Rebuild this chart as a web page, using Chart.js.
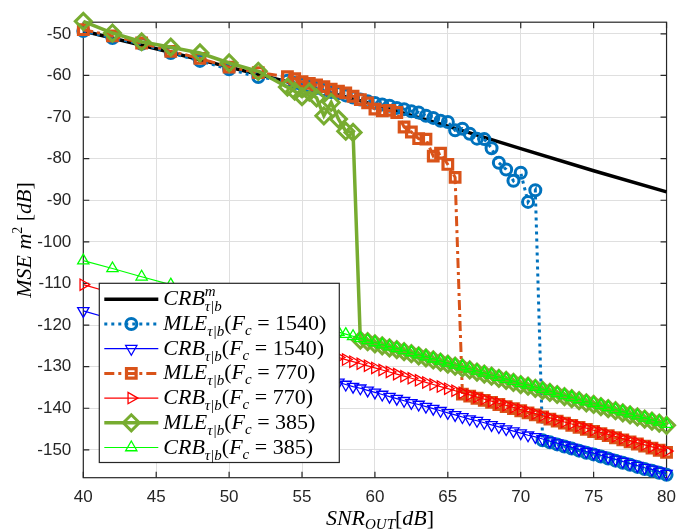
<!DOCTYPE html>
<html>
<head>
<meta charset="utf-8">
<script src="https://cdn.jsdelivr.net/npm/chart.js@4.4.0/dist/chart.umd.min.js"></script>
<style>
  html, body { margin: 0; padding: 0; background: #fff; }
  #wrap { position: relative; width: 685px; height: 532px; }
</style>
</head>
<body>
<div id="wrap"><canvas id="chart"></canvas></div>
<script>
// SNR grid of the simulated curves (2 dB steps up to 54, then 0.5 dB)
const snr = [
  40, 42, 44, 46, 48, 50, 52, 54,
  54.5, 55, 55.5, 56, 56.5, 57, 57.5, 58, 58.5, 59,
  59.5, 60, 60.5, 61, 61.5, 62, 62.5, 63, 63.5, 64,
  64.5, 65, 65.5, 66, 66.5, 67, 67.5, 68, 68.5, 69,
  69.5, 70, 70.5, 71, 71.5, 72, 72.5, 73, 73.5, 74,
  74.5, 75, 75.5, 76, 76.5, 77, 77.5, 78, 78.5, 79,
  79.5, 80
];

// black bound (no markers)
const snrM = [40, 45, 50, 55, 60, 65, 70, 75, 80];
const crbM = [-49.3, -53.6, -58.0, -62.4, -67.0, -72.2, -77.6, -82.9, -88.0];

const mle1540 = [
  -49.3, -51.0, -52.4, -54.6, -56.5, -58.5, -60.4, -61.3,
  -61.8, -62.2, -62.6, -63.0, -63.5, -64.0, -64.3, -64.8, -65.3, -65.8,
  -66.2, -66.6, -67.0, -67.3, -67.8, -68.1, -68.6, -68.9, -69.7, -70.2,
  -70.9, -71.2, -73.2, -72.8, -74.0, -75.2, -75.3, -77.5, -81.0, -82.6,
  -85.3, -83.4, -90.4, -87.6, -147.7, -148.2, -148.7, -149.2, -149.7, -150.2,
  -150.7, -151.1, -151.6, -152.1, -152.6, -153.1, -153.6, -154.1, -154.6, -155.0,
  -155.5, -156.0
];
const crb1540 = [
  -116.6, -118.6, -120.5, -122.5, -124.5, -126.4, -128.4, -130.4,
  -130.9, -131.3, -131.8, -132.3, -132.8, -133.3, -133.8, -134.3, -134.8, -135.2,
  -135.7, -136.2, -136.7, -137.2, -137.7, -138.2, -138.7, -139.1, -139.6, -140.1,
  -140.6, -141.1, -141.6, -142.1, -142.6, -143.0, -143.5, -144.0, -144.5, -145.0,
  -145.5, -146.0, -146.5, -146.9, -147.4, -147.9, -148.4, -148.9, -149.4, -149.9,
  -150.4, -150.8, -151.3, -151.8, -152.3, -152.8, -153.3, -153.8, -154.3, -154.7,
  -155.2, -155.7
];
const mle770 = [
  -49.0, -50.5, -52.2, -54.2, -55.9, -58.0, -59.3, -60.3,
  -60.8, -61.5, -61.9, -62.3, -62.7, -63.3, -63.8, -64.2, -65.0, -65.8,
  -66.6, -68.1, -68.5, -68.4, -68.9, -72.4, -73.6, -75.2, -75.3, -79.4,
  -78.7, -81.4, -84.5, -136.6, -137.1, -137.6, -138.1, -138.6, -139.1, -139.6,
  -140.1, -140.6, -141.1, -141.6, -142.1, -142.6, -143.1, -143.6, -144.1, -144.6,
  -145.1, -145.6, -146.1, -146.6, -147.1, -147.6, -148.1, -148.6, -149.1, -149.6,
  -150.1, -150.6
];
const crb770 = [
  -110.3, -112.3, -114.3, -116.3, -118.3, -120.3, -122.3, -124.3,
  -124.8, -125.3, -125.8, -126.3, -126.8, -127.3, -127.8, -128.3, -128.8, -129.3,
  -129.8, -130.3, -130.8, -131.3, -131.8, -132.3, -132.8, -133.3, -133.8, -134.3,
  -134.8, -135.3, -135.8, -136.3, -136.8, -137.3, -137.8, -138.3, -138.8, -139.3,
  -139.8, -140.3, -140.8, -141.3, -141.8, -142.3, -142.8, -143.3, -143.8, -144.3,
  -144.8, -145.3, -145.8, -146.3, -146.8, -147.3, -147.8, -148.3, -148.8, -149.3,
  -149.8, -150.3
];
const mle385 = [
  -47.0, -49.8, -51.9, -53.2, -54.6, -57.0, -59.0, -62.8,
  -63.8, -65.1, -64.0, -65.4, -69.7, -66.5, -70.5, -73.4, -73.7, -123.6,
  -124.0, -124.5, -125.0, -125.5, -125.9, -126.4, -126.9, -127.4, -127.9, -128.4,
  -128.9, -129.4, -129.9, -130.3, -130.8, -131.3, -131.8, -132.3, -132.8, -133.3,
  -133.8, -134.3, -134.7, -135.2, -135.7, -136.2, -136.7, -137.2, -137.7, -138.2,
  -138.7, -139.1, -139.6, -140.1, -140.6, -141.1, -141.6, -142.1, -142.6, -143.1,
  -143.6, -144.1
];
const crb385 = [
  -104.5, -106.4, -108.4, -110.3, -112.2, -114.2, -116.2, -118.3,
  -118.8, -119.3, -119.8, -120.3, -120.8, -121.2, -121.7, -122.2, -122.7, -123.2,
  -123.7, -124.2, -124.7, -125.2, -125.6, -126.1, -126.6, -127.1, -127.6, -128.1,
  -128.6, -129.1, -129.6, -130.0, -130.5, -131.0, -131.5, -132.0, -132.5, -133.0,
  -133.5, -134.0, -134.4, -134.9, -135.4, -135.9, -136.4, -136.9, -137.4, -137.9,
  -138.4, -138.8, -139.3, -139.8, -140.3, -140.8, -141.3, -141.8, -142.3, -142.8,
  -143.3, -143.8
];

const xTicks = [40, 45, 50, 55, 60, 65, 70, 75, 80];
const yTicks = [-50, -60, -70, -80, -90, -100, -110, -120, -130, -140, -150];

const pts = (xs, ys) => xs.map((x, i) => ({ x: x, y: ys[i] }));

const serif = '"Liberation Serif", "Times New Roman", serif';
const fnt = (s, z) => (s === 'i' ? 'italic ' : '') + z + 'px ' + serif;

// draw a run of text pieces (italic / upright, sub / superscript)
function richWidth(ctx, parts) {
  let w = 0;
  parts.forEach(p => {
    ctx.font = fnt(p.s, p.z || 22);
    if (!p.hold) w += ctx.measureText(p.t).width;
  });
  return w;
}
function drawRich(ctx, x, y, parts) {
  let cx = x;
  parts.forEach(p => {
    ctx.font = fnt(p.s, p.z || 22);
    ctx.fillText(p.t, cx, y + (p.dy || 0));
    if (!p.hold) cx += ctx.measureText(p.t).width;
  });
}

function marker(ctx, style, x, y, r, rot) {
  ctx.beginPath();
  if (style === 'circle') {
    ctx.arc(x, y, r, 0, Math.PI * 2);
  } else if (style === 'rect') {
    const h = r * Math.SQRT1_2;
    ctx.rect(x - h, y - h, 2 * h, 2 * h);
  } else if (style === 'rectRot') {
    ctx.moveTo(x - r, y); ctx.lineTo(x, y - r); ctx.lineTo(x + r, y); ctx.lineTo(x, y + r);
    ctx.closePath();
  } else if (style === 'triangle') {
    let a = (rot || 0) * Math.PI / 180;
    ctx.moveTo(x + Math.sin(a) * r, y - Math.cos(a) * r);
    for (let k = 0; k < 2; k++) {
      a += 2 * Math.PI / 3;
      ctx.lineTo(x + Math.sin(a) * r, y - Math.cos(a) * r);
    }
    ctx.closePath();
  }
  ctx.stroke();
}

const sub = { s: 'i', z: 15, dy: 6 };
const legendRows = [
  { color: '#000000', width: 3.5, dash: [], marker: null,
    text: [{ t: 'CRB', s: 'i' }, { t: 'm', s: 'i', z: 15, dy: -9, hold: true }, Object.assign({ t: 'τ|b' }, sub)] },
  { color: '#0072BD', width: 3, dash: [3, 4], marker: 'circle', r: 5.5, bw: 3, fc: '1540' },
  { color: '#0000FF', width: 1.2, dash: [], marker: 'triangle', rot: 180, r: 6.5, bw: 1.3, fc: '1540', crb: true },
  { color: '#D95319', width: 3, dash: [10, 4, 3, 4], marker: 'rect', r: 6.8, bw: 3.2, fc: '770' },
  { color: '#FF0000', width: 1.2, dash: [], marker: 'triangle', rot: 90, r: 6.5, bw: 1.3, fc: '770', crb: true },
  { color: '#77AC30', width: 3.5, dash: [], marker: 'rectRot', r: 8, bw: 3, fc: '385' },
  { color: '#00FF00', width: 1.2, dash: [], marker: 'triangle', rot: 0, r: 6.5, bw: 1.3, fc: '385', crb: true }
];
legendRows.forEach(row => {
  if (row.text) return;
  row.text = [
    { t: row.crb ? 'CRB' : 'MLE', s: 'i' }, Object.assign({ t: 'τ|b' }, sub),
    { t: '(', s: 'n' }, { t: 'F', s: 'i' }, { t: 'c', s: 'i', z: 15, dy: 5 },
    { t: ' = ', s: 'n' }, { t: row.fc, s: 'n' }, { t: ')', s: 'n' }
  ];
});

const framePlugin = {
  id: 'frame',
  beforeDatasetsDraw(chart) {
    const ctx = chart.ctx;
    const a = chart.chartArea;
    const sx = chart.scales.x, sy = chart.scales.y;
    ctx.save();
    ctx.strokeStyle = '#262626';
    ctx.lineWidth = 1.2;
    ctx.strokeRect(a.left, a.top, a.right - a.left, a.bottom - a.top);
    ctx.beginPath();
    xTicks.forEach(v => {
      const px = sx.getPixelForValue(v);
      ctx.moveTo(px, a.bottom); ctx.lineTo(px, a.bottom - 6);
      ctx.moveTo(px, a.top); ctx.lineTo(px, a.top + 6);
    });
    yTicks.forEach(v => {
      const py = sy.getPixelForValue(v);
      ctx.moveTo(a.left, py); ctx.lineTo(a.left + 6, py);
      ctx.moveTo(a.right, py); ctx.lineTo(a.right - 6, py);
    });
    ctx.stroke();
    ctx.restore();
  },
  afterDraw(chart) {
    const ctx = chart.ctx;
    ctx.save();
    ctx.fillStyle = '#000';
    ctx.textBaseline = 'alphabetic';

    // x title
    const xt = [{ t: 'SNR', s: 'i' }, { t: 'OUT', s: 'i', z: 15, dy: 4 },
                { t: '[', s: 'n' }, { t: 'dB', s: 'i' }, { t: ']', s: 'n' }];
    drawRich(ctx, 380 - richWidth(ctx, xt) / 2, 525, xt);

    // y title
    const yt = [{ t: 'MSE ', s: 'i' }, { t: 'm', s: 'i' }, { t: '2', s: 'n', z: 14, dy: -9 },
                { t: ' [', s: 'n' }, { t: 'dB', s: 'i' }, { t: ']', s: 'n' }];
    ctx.translate(31, 240);
    ctx.rotate(-Math.PI / 2);
    drawRich(ctx, -richWidth(ctx, yt) / 2, 0, yt);
    ctx.setTransform(1, 0, 0, 1, 0, 0);
    ctx.restore();

    // legend box
    ctx.save();
    const bx = 99.3, by = 283.3, bw = 240, bh = 179.2;
    ctx.fillStyle = '#fff';
    ctx.fillRect(bx, by, bw, bh);
    ctx.strokeStyle = '#262626';
    ctx.lineWidth = 1.2;
    ctx.strokeRect(bx, by, bw, bh);
    legendRows.forEach((row, i) => {
      const y = 299.3 + i * 24.7;
      ctx.strokeStyle = row.color;
      ctx.lineWidth = row.width;
      ctx.setLineDash(row.dash);
      ctx.beginPath();
      ctx.moveTo(104.3, y); ctx.lineTo(158.3, y);
      ctx.stroke();
      ctx.setLineDash([]);
      if (row.marker) {
        ctx.lineWidth = row.bw;
        marker(ctx, row.marker, 131.3, y, row.r, row.rot);
      }
      ctx.fillStyle = '#000';
      drawRich(ctx, 163.3, y + 6, row.text);
    });
    ctx.restore();
  }
};

function series(data, color, width, dash, style, r, bw, rot, order) {
  return {
    data: data,
    borderColor: color,
    backgroundColor: color,
    borderWidth: width,
    borderDash: dash,
    pointStyle: style || 'circle',
    pointRadius: style ? r : 0,
    pointBorderWidth: bw || 1,
    pointRotation: rot || 0,
    pointBorderColor: color,
    pointBackgroundColor: 'rgba(0,0,0,0)',
    tension: 0,
    clip: false,
    order: order
  };
}

const tickFont = { family: '"Liberation Sans", Arial, sans-serif', size: 17 };

new Chart(document.getElementById('chart'), {
  type: 'line',
  data: {
    datasets: [
      series(pts(snrM, crbM), '#000000', 3.5, [], null, 0, 0, 0, 7),
      series(pts(snr, mle1540), '#0072BD', 3, [3, 4], 'circle', 5.5, 3, 0, 6),
      series(pts(snr, crb1540), '#0000FF', 1.2, [], 'triangle', 6.5, 1.3, 180, 5),
      series(pts(snr, mle770), '#D95319', 3, [10, 4, 3, 4], 'rect', 6.8, 3.2, 0, 4),
      series(pts(snr, crb770), '#FF0000', 1.2, [], 'triangle', 6.5, 1.3, 90, 3),
      series(pts(snr, mle385), '#77AC30', 3.5, [], 'rectRot', 8, 3, 0, 2),
      series(pts(snr, crb385), '#00FF00', 1.2, [], 'triangle', 6.5, 1.3, 0, 1)
    ]
  },
  options: {
    responsive: true,
    maintainAspectRatio: false,
    animation: false,
    layout: { autoPadding: false, padding: { left: 0, right: 8.3, top: 10.7, bottom: 0 } },
    plugins: { legend: { display: false }, tooltip: { enabled: false } },
    scales: {
      x: {
        type: 'linear', min: 40, max: 80,
        afterBuildTicks: s => { s.ticks = xTicks.map(v => ({ value: v })); },
        afterFit: s => { s.height = 54.3; },
        grid: { color: '#dfdfdf', drawTicks: false },
        border: { display: false },
        ticks: { font: tickFont, color: '#262626', padding: 9, maxRotation: 0, autoSkip: false }
      },
      y: {
        type: 'linear', min: -156.7, max: -47.2,
        afterBuildTicks: s => { s.ticks = yTicks.map(v => ({ value: v })); },
        afterFit: s => { s.width = 83.3; },
        grid: { color: '#dfdfdf', drawTicks: false },
        border: { display: false },
        ticks: { font: tickFont, color: '#262626', padding: 12, autoSkip: false }
      }
    }
  },
  plugins: [framePlugin]
});
</script>
</body>
</html>
